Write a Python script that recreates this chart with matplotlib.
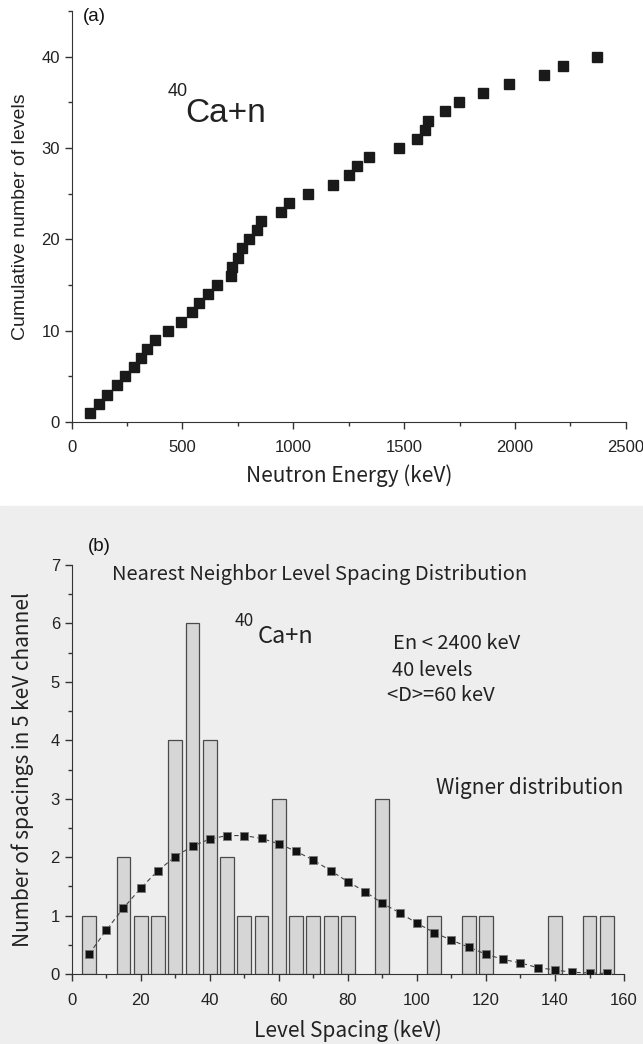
import numpy as np
import matplotlib.pyplot as plt
from matplotlib.ticker import MultipleLocator

# (a) cumulative level count vs neutron energy
energy_kev = [82, 122, 160, 205, 242, 279, 313, 340, 375, 434,
              491, 541, 573, 616, 656, 718, 722, 751, 770, 801,
              838, 855, 944, 979, 1066, 1180, 1250, 1286, 1341, 1479,
              1557, 1593, 1610, 1683, 1748, 1854, 1974, 2131, 2219, 2371]
level_count = list(range(1, 41))

# (b) nearest neighbour spacing histogram (5 keV channels)
spacing_centers = [5, 15, 20, 25, 30, 35, 40, 45, 50, 55, 60, 65, 70, 75, 80,
                   90, 105, 115, 120, 140, 150, 155]
spacing_counts = [1, 2, 1, 1, 4, 6, 4, 2, 1, 1, 3, 1, 1, 1, 1,
                  3, 1, 1, 1, 1, 1, 1]

# Wigner distribution points
wigner_x = [5, 10, 15, 20, 25, 30, 35, 40, 45, 50, 55, 60, 65, 70, 75, 80,
            85, 90, 95, 100, 105, 110, 115, 120, 125, 130, 135, 140, 145, 150, 155]
wigner_y = [0.34, 0.75, 1.13, 1.47, 1.77, 2.01, 2.19, 2.31, 2.37, 2.37, 2.32,
            2.23, 2.10, 1.95, 1.77, 1.58, 1.41, 1.21, 1.05, 0.87, 0.71, 0.58,
            0.46, 0.34, 0.25, 0.19, 0.11, 0.07, 0.03, 0.02, 0.01]

LAT = 'Liberation Sans'
JP = ['Noto Sans CJK JP', 'DejaVu Sans']
ink = '#222222'

plt.rcParams['font.family'] = [LAT, 'DejaVu Sans']
plt.rcParams['axes.edgecolor'] = '#333333'
plt.rcParams['xtick.color'] = '#333333'
plt.rcParams['ytick.color'] = '#333333'
plt.rcParams['xtick.labelcolor'] = ink
plt.rcParams['ytick.labelcolor'] = ink

fig = plt.figure(figsize=(6.43, 10.44), dpi=100)
# scanned grey background of lower panel
fig.patches.append(plt.Rectangle((0, 0), 1, 0.515, transform=fig.transFigure,
                                 color='#eeeeee', zorder=-5))


def style_axes(ax):
    ax.spines['top'].set_visible(False)
    ax.spines['right'].set_visible(False)
    ax.patch.set_alpha(0)
    ax.tick_params(which='major', direction='out', length=5, width=1, labelsize=12)
    ax.tick_params(which='minor', direction='out', length=3, width=1)


# ---- panel (a)
ax1 = fig.add_axes([0.1115, 0.5958, 0.8616, 0.3937])
ax1.plot(energy_kev, level_count, 's', color='#1a1a1a', markersize=6.5)
ax1.set_xlim(0, 2500)
ax1.set_ylim(0, 45)
ax1.xaxis.set_major_locator(MultipleLocator(500))
ax1.xaxis.set_minor_locator(MultipleLocator(250))
ax1.yaxis.set_major_locator(MultipleLocator(10))
ax1.yaxis.set_minor_locator(MultipleLocator(5))
style_axes(ax1)
ax1.tick_params(axis='x', which='major', pad=8)
ax1.set_xlabel('Neutron Energy (keV)', family=JP, fontsize=15, color=ink, labelpad=7)
ax1.set_ylabel('Cumulative number of levels', fontsize=14, color=ink, labelpad=9)
ax1.text(433, 36.2, '40', fontsize=13, color=ink, va='center', ha='left')
ax1.text(514, 33.8, 'Ca+n', fontsize=24, color=ink, va='center', ha='left')
fig.text(0.129, 0.984, '(a)', fontsize=13.5, color='#111111', va='center', ha='left')

# ---- panel (b)
ax2 = fig.add_axes([0.1115, 0.0670, 0.859, 0.3918])
ax2.bar(spacing_centers, spacing_counts, width=4, color='#d6d6d6',
        edgecolor='#4a4a4a', linewidth=0.9, zorder=2)
ax2.plot(wigner_x, wigner_y, ls=(0, (4, 3)), lw=0.8, color='#444444',
         marker='s', markersize=5.5, markerfacecolor='#111111',
         markeredgecolor='#777777', markeredgewidth=0.6, zorder=3)
ax2.set_xlim(0, 160)
ax2.set_ylim(0, 7)
ax2.xaxis.set_major_locator(MultipleLocator(20))
ax2.xaxis.set_minor_locator(MultipleLocator(10))
ax2.yaxis.set_major_locator(MultipleLocator(1))
ax2.yaxis.set_minor_locator(MultipleLocator(0.5))
style_axes(ax2)
ax2.tick_params(axis='x', which='major', pad=9)
ax2.set_xlabel('Level Spacing (keV)', family=JP, fontsize=15, color=ink, labelpad=8)
ax2.set_ylabel('Number of spacings in 5 keV channel', family=JP, fontsize=15,
               color=ink, labelpad=12)
ax2.text(11.7, 6.83, 'Nearest Neighbor Level Spacing Distribution', family=JP,
         fontsize=14.5, color=ink, va='center', ha='left')
ax2.text(47.3, 6.04, '40', family=JP, fontsize=12.5, color=ink, va='center', ha='left')
ax2.text(53.8, 5.77, 'Ca+n', family=JP, fontsize=17, color=ink, va='center', ha='left')
ax2.text(93.1, 5.66, 'En < 2400 keV', family=JP, fontsize=14.5, color=ink, va='center', ha='left')
ax2.text(92.8, 5.2, '40 levels', family=JP, fontsize=14.5, color=ink, va='center', ha='left')
ax2.text(91.4, 4.77, '<D>=60 keV', family=JP, fontsize=14.5, color=ink, va='center', ha='left')
ax2.text(105.5, 3.18, 'Wigner distribution', family=JP, fontsize=15, color=ink,
         va='center', ha='left')
fig.text(0.137, 0.4765, '(b)', fontsize=13.5, color='#111111', va='center', ha='left')

plt.savefig('out.png', dpi=100)
